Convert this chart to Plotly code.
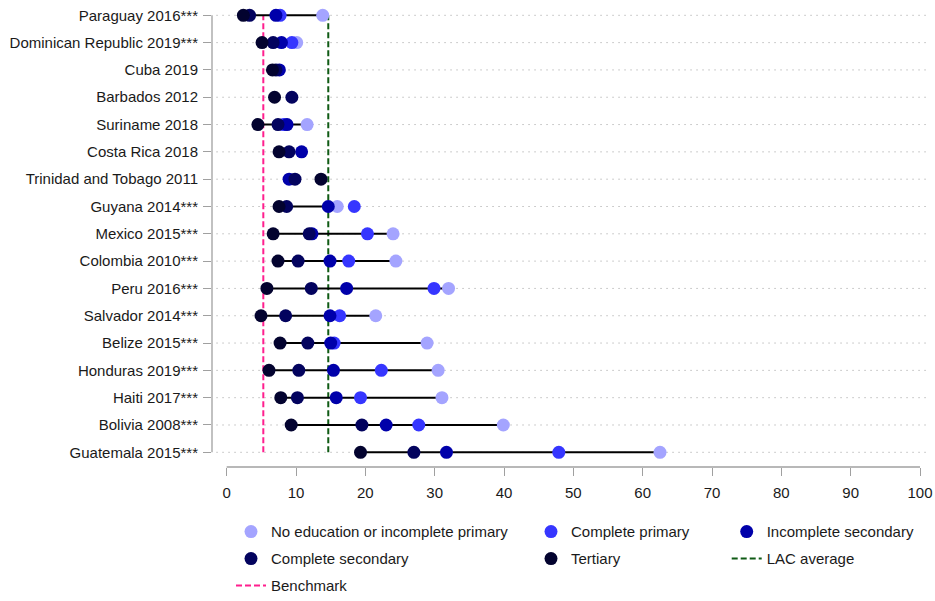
import plotly.graph_objects as go

countries = ["Paraguay 2016***", "Dominican Republic 2019***", "Cuba 2019", "Barbados 2012",
             "Suriname 2018", "Costa Rica 2018", "Trinidad and Tobago 2011", "Guyana 2014***",
             "Mexico 2015***", "Colombia 2010***", "Peru 2016***", "Salvador 2014***",
             "Belize 2015***", "Honduras 2019***", "Haiti 2017***", "Bolivia 2008***",
             "Guatemala 2015***"]

no_education = [13.85, 10.1, None, None, 11.6, None, None, 15.95, 24.0, 24.4, 32.0, 21.5,
                28.9, 30.5, 31.05, 39.9, 62.5]
complete_primary = [7.7, 9.4, None, None, 8.2, None, None, 18.4, 20.3, 17.6, 29.9, 16.3,
                    15.5, 22.3, 19.3, 27.7, 47.9]
incomplete_secondary = [7.1, 7.9, 7.6, None, 8.7, 10.8, 9.0, 14.65, 12.3, 14.9, 17.3, 14.9,
                        15.0, 15.4, 15.8, 23.0, 31.7]
complete_secondary = [3.3, 6.7, 7.1, 9.4, 7.4, 9.0, 9.85, 8.65, 11.9, 10.3, 12.2, 8.5,
                      11.7, 10.4, 10.2, 19.5, 27.0]
tertiary = [2.4, 5.1, 6.6, 6.9, 4.5, 7.55, 13.6, 7.55, 6.7, 7.4, 5.8, 4.95,
            7.7, 6.1, 7.8, 9.3, 19.3]

# connecting range lines (start, end); None = no line drawn
line_start = [2.4, 5.1, None, None, 4.5, None, None, 7.55, 6.7, 7.4, 5.8, 4.95,
              7.7, 6.1, 7.8, 9.3, 19.3]
line_end = [13.85, 10.1, None, None, 11.6, None, None, 14.65, 24.0, 24.4, 32.0, 21.5,
            28.9, 30.5, 31.05, 39.9, 62.5]

benchmark = 5.28
lac_average = 14.65

x_ticks = [0, 10, 20, 30, 40, 50, 60, 70, 80, 90, 100]

n = len(countries)
ypos = [n - 1 - i for i in range(n)]

FONT = "Liberation Sans, Arial, sans-serif"
TXT = "#1a1a1a"
AX = "#a0a0a0"

W, H = 935, 601

fig = go.Figure()

# reference lines
fig.add_trace(go.Scatter(x=[benchmark, benchmark], y=[0, n - 1], mode="lines",
                         line=dict(color="#ff1f8e", width=2, dash="6px,3px"),
                         name="Benchmark", legend="legend", legendrank=3,
                         legendgroup="g6", hoverinfo="skip"))
fig.add_trace(go.Scatter(x=[lac_average, lac_average], y=[0, n - 1], mode="lines",
                         line=dict(color="#0f5a14", width=2, dash="6px,3px"),
                         name="LAC average", legend="legend3", legendrank=2,
                         legendgroup="g7", hoverinfo="skip"))

# range lines
lx, ly = [], []
for s, e, y in zip(line_start, line_end, ypos):
    if s is not None and e is not None:
        lx += [s, e, None]
        ly += [y, y, None]
fig.add_trace(go.Scatter(x=lx, y=ly, mode="lines", line=dict(color="black", width=2),
                         showlegend=False, hoverinfo="skip"))

series = [
    ("No education or incomplete primary", no_education, "#a4a4ff", "legend", 1, "g1"),
    ("Complete primary", complete_primary, "#3636ff", "legend2", 1, "g2"),
    ("Incomplete secondary", incomplete_secondary, "#0000aa", "legend3", 1, "g3"),
    ("Complete secondary", complete_secondary, "#03035e", "legend", 2, "g4"),
    ("Tertiary", tertiary, "#03032f", "legend2", 2, "g5"),
]
for name, vals, col, lg, rank, grp in series:
    fig.add_trace(go.Scatter(x=vals, y=ypos, mode="markers", name=name,
                             marker=dict(color=col, size=13, line=dict(width=0)),
                             legend=lg, legendrank=rank, legendgroup=grp))

shapes = []
# dotted row guide lines
for y in ypos:
    shapes.append(dict(type="line", xref="x", yref="y", x0=-1.5, x1=101.4, y0=y, y1=y,
                       line=dict(color="#bdbdbd", width=1, dash="1.5px,4.5px"), layer="below"))
# x axis line (0 to 100)
shapes.append(dict(type="line", xref="x", yref="paper", x0=0, x1=100, y0=0, y1=0,
                   line=dict(color=AX, width=1.3)))
# y axis line (first to last category)
shapes.append(dict(type="line", xref="paper", yref="y", x0=0, x1=0, y0=0, y1=n - 1,
                   line=dict(color=AX, width=1.3)))

leg_common = dict(xref="container", yref="container", yanchor="top", xanchor="left",
                  orientation="v", font=dict(family=FONT, size=15, color=TXT),
                  bgcolor="rgba(0,0,0,0)", tracegroupgap=4.5, traceorder="grouped")
leg_y = 1 - 515.3 / H

fig.update_layout(
    width=W, height=H, autosize=False,
    margin=dict(l=212, r=5, t=2, b=134, autoexpand=False),
    plot_bgcolor="white", paper_bgcolor="white",
    font=dict(family=FONT, size=15, color=TXT),
    xaxis=dict(range=[-2.12, 101.44], tickvals=x_ticks, ticktext=[str(v) for v in x_ticks],
               ticks="outside", ticklen=8, tickwidth=1.3, tickcolor=AX,
               showline=False, showgrid=False, zeroline=False, automargin=False,
               ticklabelstandoff=4, ticklabeloverflow="allow",
               tickfont=dict(family=FONT, size=15, color=TXT)),
    yaxis=dict(range=[-0.538, 16.487], tickvals=ypos, ticktext=countries,
               ticks="outside", ticklen=8, tickwidth=1.3, tickcolor=AX,
               showline=False, showgrid=False, zeroline=False, automargin=False,
               ticklabelstandoff=2, ticklabeloverflow="allow",
               tickfont=dict(family=FONT, size=15, color=TXT)),
    shapes=shapes,
    legend=dict(x=231 / W, y=leg_y, **leg_common),
    legend2=dict(x=531 / W, y=leg_y, **leg_common),
    legend3=dict(x=726.7 / W, y=leg_y, **leg_common),
)

fig.write_html(
    "out.html",
    config={"displayModeBar": False},
    post_script="document.body.style.margin='0px';"
                "document.documentElement.style.overflow='hidden';"
                "document.body.style.overflow='hidden';",
)
